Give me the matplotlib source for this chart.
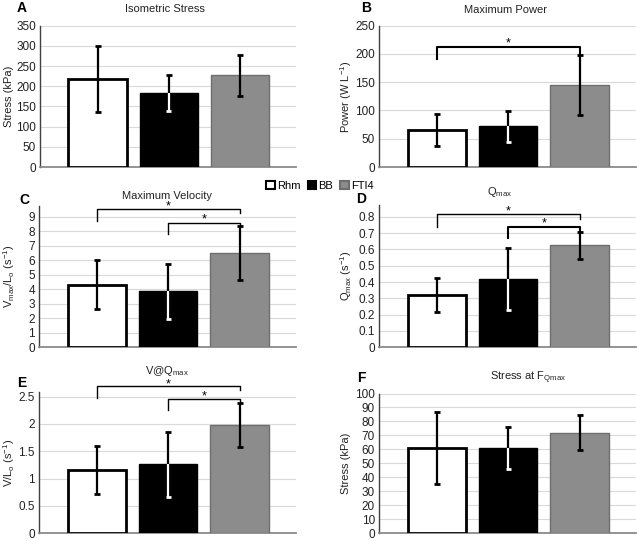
import matplotlib
matplotlib.use("Agg")
import matplotlib.pyplot as plt
from matplotlib.ticker import FuncFormatter, MultipleLocator
from matplotlib.patches import Rectangle

plt.rcParams['font.family'] = ['Liberation Sans', 'DejaVu Sans']
plt.rcParams['mathtext.fontset'] = 'custom'
plt.rcParams['mathtext.rm'] = 'Liberation Sans'
plt.rcParams['mathtext.it'] = 'Liberation Sans'
plt.rcParams['mathtext.bf'] = 'Liberation Sans:bold'

groups = ['Rhm', 'BB', 'FTI4']

# panel data (mean, error)
stress_mean = [218, 183, 227]
stress_err = [82, 45, 50]
power_mean = [66, 72, 145]
power_err = [28, 27, 53]
vmax_mean = [4.3, 3.85, 6.5]
vmax_err = [1.7, 1.9, 1.85]
qmax_mean = [0.32, 0.42, 0.625]
qmax_err = [0.105, 0.19, 0.085]
vq_mean = [1.15, 1.26, 1.98]
vq_err = [0.44, 0.6, 0.4]
fq_mean = [61, 61, 72]
fq_err = [25.5, 15, 12.5]

W, H = 637, 541
fig = plt.figure(figsize=(W / 100, H / 100), dpi=100)

face = ['white', 'black', '#8c8c8c']
edge = ['black', 'black', '#6e6e6e']


def add_ax(l, r, t, b):
    return fig.add_axes([l / W, 1 - b / H, (r - l) / W, (b - t) / H])


def panel(ax, means, errs, ymax, step, ylabel, letter, title, letter_xy, title_xy, ylab_x):
    x = list(range(len(means)))
    ax.bar(x, means, width=0.82, color=face, edgecolor=edge, linewidth=[2.0, 1.0, 1.0], zorder=3)
    for i, (m, e) in enumerate(zip(means, errs)):
        ax.errorbar([i], [m], yerr=[e], fmt='none', ecolor='black', elinewidth=1.6,
                    capsize=2.5, capthick=2.0, zorder=4)
        if i == 1:
            # white part of the error bar inside the black bar
            ax.errorbar([i], [m - e / 2], yerr=[[e / 2], [e / 2]], fmt='none', ecolor='white',
                        elinewidth=1.6, capsize=0, zorder=5)
            ax.plot([i - 0.035, i + 0.035], [m - e, m - e], color='white', lw=2.0, zorder=5,
                    solid_capstyle='butt')
    ax.set_xlim(-0.81, 2.79)
    ax.set_ylim(0, ymax)
    ax.yaxis.set_major_locator(MultipleLocator(step))
    ax.yaxis.set_major_formatter(FuncFormatter(lambda v, p: '%g' % round(v, 6)))
    ax.set_xticks([])
    ax.grid(axis='y', color='#d9d9d9', lw=0.8, zorder=0)
    ax.set_axisbelow(True)
    for s in ['top', 'right']:
        ax.spines[s].set_visible(False)
    ax.spines['left'].set_color('#404040')
    ax.spines['left'].set_linewidth(1.0)
    ax.spines['bottom'].set_color('#8a8a8a')
    ax.spines['bottom'].set_linewidth(1.3)
    ax.tick_params(axis='y', length=0, labelsize=8.5, colors='#222222', pad=3)
    fig.text(letter_xy[0] / W, 1 - letter_xy[1] / H, letter, fontsize=10, fontweight='bold',
             ha='center', va='center')
    fig.text(title_xy[0] / W, 1 - title_xy[1] / H, title, fontsize=8, ha='center', va='center',
             color='#222222')
    pos = ax.get_position()
    fig.text(ylab_x / W, pos.y0 + pos.height / 2, ylabel, rotation=90, fontsize=8,
             ha='center', va='center', color='#222222')


def bracket(ax, x0, x1, y, yl, yr, star_y, lw=1.3):
    ax.plot([x0, x0, x1, x1], [yl, y, y, yr], color='black', lw=lw, clip_on=False, zorder=6)
    ax.text((x0 + x1) / 2, star_y, '*', ha='center', va='center', fontsize=9, clip_on=False)


axA = add_ax(40, 296, 25.7, 167)
panel(axA, stress_mean, stress_err, 350, 50, 'Stress (kPa)', 'A', 'Isometric Stress',
      (22, 8), (165, 9), 9)

axB = add_ax(379, 636, 25.7, 167)
panel(axB, power_mean, power_err, 250, 50, r'Power (W L$^{-1}$)', 'B', 'Maximum Power',
      (366, 8), (505, 10), 346)
bracket(axB, 0, 2, 212, 191, 198, 218, lw=1.5)

axC = add_ax(39, 296, 206, 347)
panel(axC, vmax_mean, vmax_err, 9.74, 1, r'V$_{max}$/L$_o$ (s$^{-1}$)', 'C', 'Maximum Velocity',
      (24, 200), (167, 196), 9)
bracket(axC, 0, 2, 9.53, 8.73, 9.27, 9.72, lw=1.0)
bracket(axC, 1, 2, 8.6, 7.84, 8.3, 8.8, lw=1.0)

axD = add_ax(379, 636, 205, 347.3)
panel(axD, qmax_mean, qmax_err, 0.873, 0.1, r'Q$_{max}$ (s$^{-1}$)', 'D', r'Q$_{max}$',
      (361, 199), (500, 192), 346)
bracket(axD, 0, 2, 0.816, 0.74, 0.787, 0.835, lw=1.0)
bracket(axD, 1, 2, 0.74, 0.673, 0.71, 0.76, lw=1.5)

axE = add_ax(39, 296, 391.7, 533.3)
panel(axE, vq_mean, vq_err, 2.59, 0.5, r'V/L$_o$ (s$^{-1}$)', 'E', r'V@Q$_{max}$',
      (22, 383), (167, 371), 9)
bracket(axE, 0, 2, 2.70, 2.47, 2.63, 2.73, lw=1.0)
bracket(axE, 1, 2, 2.46, 2.26, 2.38, 2.50, lw=1.0)

axF = add_ax(379, 636, 393.5, 533.3)
panel(axF, fq_mean, fq_err, 100, 10, 'Stress (kPa)', 'F', r'Stress at F$_{Qmax}$',
      (361, 378), (528, 378), 346)

# legend
handles = [Rectangle((0, 0), 1, 1, facecolor=face[i], edgecolor=edge[i], linewidth=1.5)
           for i in range(3)]
fig.legend(handles, groups, loc='center', bbox_to_anchor=(320 / W, 1 - 186 / H), ncol=3,
           frameon=False, fontsize=8, handlelength=0.8, handleheight=0.8, handletextpad=0.2,
           columnspacing=0.6, borderaxespad=0)

fig.savefig('out.png', dpi=100)
